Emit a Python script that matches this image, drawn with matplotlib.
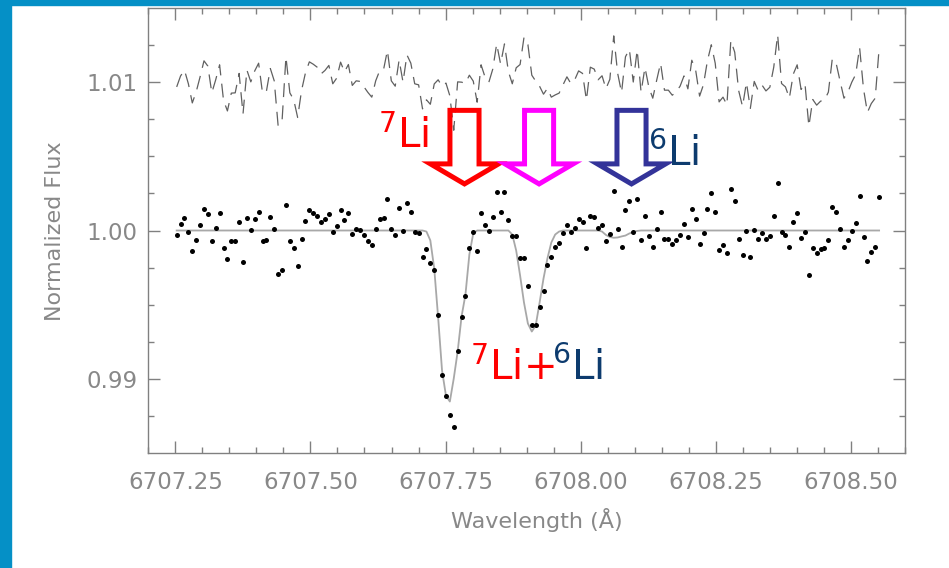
import numpy as np
import matplotlib
matplotlib.use('Agg')
import matplotlib.pyplot as plt
from matplotlib.patches import Polygon, Rectangle

plt.rcParams['font.family'] = ['DejaVu Sans']
plt.rcParams['mathtext.default'] = 'regular'
plt.rcParams['lines.scale_dashes'] = False

# Spectrum sampling: evenly spaced pixels across the Li 6708 region
wave_start = 6707.2525
wave_step = 0.00722
flux = [
    0.99968, 1.00042, 1.00081, 0.99989, 0.99860, 0.99935, 1.00036, 1.00144, 1.00108, 0.99928,
    1.00016, 1.00117, 0.99879, 0.99806, 0.99926, 0.99928, 1.00059, 0.99786, 1.00081, 1.00002,
    1.00076, 1.00128, 0.99926, 0.99939, 1.00092, 1.00009, 0.99705, 0.99737, 1.00171, 0.99928,
    0.99881, 0.99762, 0.99944, 1.00063, 1.00137, 1.00121, 1.00101, 1.00056, 1.00079, 1.00113,
    0.99989, 1.00027, 1.00135, 1.00069, 1.00119, 0.99978, 1.00009, 1.00005, 0.99968, 0.99931,
    0.99899, 1.00009, 1.00076, 1.00083, 1.00214, 1.00009, 0.99973, 1.00150, 1.00000, 1.00184,
    1.00128, 0.99989, 0.99982, 0.99820, 0.99874, 0.99784, 0.99732, 0.99429, 0.99029, 0.98881,
    0.98755, 0.98678, 0.99186, 0.99420, 0.99560, 0.99885, 0.99987, 0.99865, 1.00117, 1.00036,
    1.00000, 1.00088, 1.00258, 1.00123, 1.00258, 1.00072, 0.99962, 0.99962, 0.99816, 0.99816,
    0.99627, 0.99366, 0.99366, 0.99486, 0.99595, 0.99769, 0.99818, 0.99887, 0.99919, 0.99982,
    1.00036, 0.99991, 1.00016, 1.00076, 1.00059, 0.99879, 1.00101, 1.00088, 1.00016, 1.00036,
    0.99926, 0.99975, 1.00263, 1.00013, 0.99890, 1.00137, 1.00202, 0.99991, 1.00214, 0.99933,
    1.00099, 0.99966, 0.99892, 1.00013, 1.00128, 0.99946, 0.99946, 0.99912, 0.99935, 0.99973,
    1.00042, 0.99955, 1.00148, 1.00079, 0.99906, 0.99984, 1.00144, 1.00252, 1.00128, 0.99867,
    0.99899, 0.99847, 1.00281, 1.00202, 0.99944, 0.99836, 0.99998, 0.99823, 1.00005, 0.99944,
    0.99980, 0.99941, 0.99966, 1.00101, 1.00319, 0.99991, 0.99968, 0.99892, 1.00054, 1.00117,
    0.99951, 0.99991, 0.99703, 0.99883, 0.99845, 0.99872, 0.99879, 0.99933, 1.00157, 1.00126,
    1.00007, 0.99892, 0.99933, 1.00000, 1.00052, 1.00234, 0.99955, 0.99796, 0.99856, 0.99892,
    1.00227,
]

# Synthetic fit: continuum with the 7Li blend, the 7Li+6Li blend and a weak 6Li feature
dip_7li = [0.99993, 0.99933, 0.99744, 0.99413, 0.99056, 0.98887, 0.98847, 0.99002, 0.99184,
           0.99420, 0.99568, 0.99838, 0.99980]
dip_blend = [0.99973, 0.99865, 0.99697, 0.99514, 0.99373, 0.99319, 0.99359, 0.99514, 0.99676,
             0.99811, 0.99919, 0.99973, 0.99993]
dip_6li = [0.99993, 0.99970, 0.99956, 0.99951, 0.99953, 0.99960, 0.99966, 0.99980, 0.99990, 0.99997]
model = ([1.0] * 64 + dip_7li + [1.0] * 9 + dip_blend + [1.0] * 10 + dip_6li + [1.0] * 62)

residual_offset = 1.01

x_ticks = [6707.25, 6707.50, 6707.75, 6708.00, 6708.25, 6708.50]
y_ticks = [0.99, 1.00, 1.01]

# arrow centres (Angstrom) and colours
arrow_pos = [6707.785, 6707.923, 6708.094]
arrow_colors = ['#ff0000', '#ff00ff', '#333399']

wave = wave_start + wave_step * np.arange(len(flux))
flux = np.array(flux)
model = np.array(model)
resid = flux - model + residual_offset

fig = plt.figure(figsize=(9.49, 5.68), dpi=100)

# slide decoration
fig.patches.append(Rectangle((0, 1 - 5 / 568), 1, 5 / 568, transform=fig.transFigure,
                             color='#0590c6', zorder=0))
fig.patches.append(Rectangle((0, 0), 11 / 949, 1, transform=fig.transFigure,
                             color='#0590c6', zorder=0))

ax = fig.add_axes([148.3 / 949, 1 - 453 / 568, (905 - 148.3) / 949, (453 - 8) / 568])

ax.plot(wave, model, color='#a8a8a8', lw=1.3, zorder=2)
ax.plot(wave, flux, 'o', color='black', ms=3.6, mec='none', zorder=3)
ax.plot(wave, resid, color='#606060', lw=0.9, dashes=(10, 6), zorder=2)

ax.set_xlim(6707.2, 6708.6)
ax.set_ylim(0.985, 1.015)
ax.set_xticks(x_ticks)
ax.set_xticklabels([f'{v:.2f}' for v in x_ticks])
ax.set_xticks(np.arange(6707.2, 6708.6, 0.05), minor=True)
ax.set_yticks(y_ticks)
ax.set_yticklabels([f'{v:.2f}' for v in y_ticks])
ax.set_yticks(np.arange(0.9875, 1.0150, 0.0025), minor=True)

for s in ax.spines.values():
    s.set_color('#808080')
    s.set_linewidth(1.0)
ax.tick_params(which='both', direction='in', top=True, right=True, color='#808080',
               width=1.0, labelcolor='#888888', labelsize=16.5)
ax.tick_params(which='major', length=8.5)
ax.tick_params(which='minor', length=4.3)
ax.tick_params(axis='x', pad=13)
ax.tick_params(axis='y', pad=8)

fig.text(55 / 949, 1 - 231 / 568, 'Normalized Flux', rotation=90, ha='center', va='center',
         fontsize=16, color='#888888')
fig.text(537 / 949, 1 - 520 / 568, 'Wavelength (Å)', ha='center', va='center',
         fontsize=16, color='#888888')

# hollow block arrows marking the line positions
for xc, col in zip(arrow_pos, arrow_colors):
    hw_shaft, hw_head = 0.0269, 0.063
    y_top, y_neck, y_tip = 1.00810, 1.00449, 1.00314
    verts = [(xc - hw_shaft, y_top), (xc + hw_shaft, y_top), (xc + hw_shaft, y_neck),
             (xc + hw_head, y_neck), (xc, y_tip), (xc - hw_head, y_neck),
             (xc - hw_shaft, y_neck)]
    ax.add_patch(Polygon(verts, closed=True, fill=False, ec=col, lw=3.6,
                         joinstyle='miter', zorder=4))

ax.text(6707.6254, 1.00557, r'$^{7}$Li', color='#ff0000', fontsize=29, va='baseline', zorder=5)
ax.text(6708.1254, 1.00436, r'$^{6}$Li', color='#0d3b6e', fontsize=29, va='baseline', zorder=5)
ax.text(6707.7957, 0.98993, r'$^{7}$Li+', color='#ff0000', fontsize=29, va='baseline', zorder=5)
ax.text(6707.947, 0.98993, r'$^{6}$Li', color='#0d3b6e', fontsize=29, va='baseline', zorder=5)

fig.savefig('out.png', dpi=100)
